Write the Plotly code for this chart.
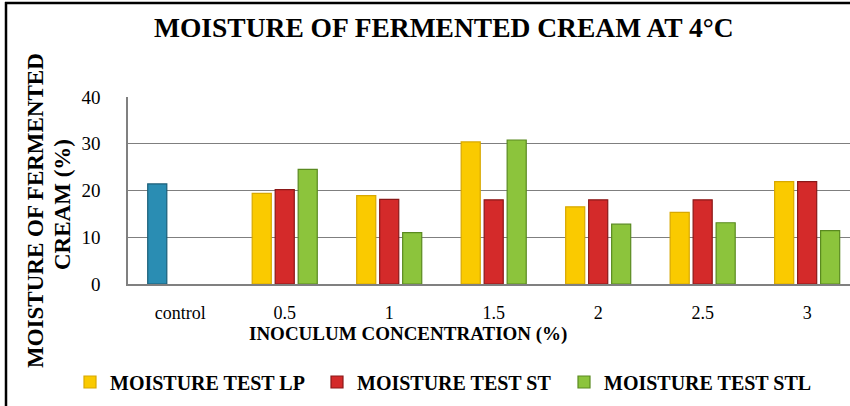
import plotly.graph_objects as go

categories = ["control", "0.5", "1", "1.5", "2", "2.5", "3"]
control_vals = [21.4]
lp_vals = [19.4, 18.9, 30.4, 16.5, 15.3, 21.9]
st_vals = [20.2, 18.1, 18.0, 18.0, 18.0, 21.9]
stl_vals = [24.5, 11.0, 30.8, 12.8, 13.1, 11.4]
y_ticks = [0, 10, 20, 30, 40]

FONT = "Liberation Serif"
W, H = 850, 406
L, R, T, B = 128, 0, 97, 122
PW, PH = W - L - R, H - T - B


def px(x):
    return (x - L) / PW


def py(y):
    return (H - B - y) / PH


fig = go.Figure()
fig.add_trace(go.Bar(x=categories[:1], y=control_vals, offsetgroup="lp", showlegend=False,
                     marker=dict(color="#2A8DB3", line=dict(color="#1A5E78", width=1.2)),
                     name="control"))
fig.add_trace(go.Bar(x=categories[1:], y=lp_vals, offsetgroup="lp", name="<b>MOISTURE TEST LP</b>",
                     marker=dict(color="#FACA00", line=dict(color="#D8A800", width=1.2))))
fig.add_trace(go.Bar(x=categories[1:], y=st_vals, offsetgroup="st", name="<b>MOISTURE TEST ST</b>",
                     marker=dict(color="#D42A2A", line=dict(color="#8A1818", width=1.2))))
fig.add_trace(go.Bar(x=categories[1:], y=stl_vals, offsetgroup="stl", name="<b>MOISTURE TEST STL</b>",
                     marker=dict(color="#8CC43C", line=dict(color="#5A8A20", width=1.2))))

fig.update_layout(
    width=W, height=H,
    margin=dict(l=L, r=R, t=T, b=B, pad=0),
    paper_bgcolor="white", plot_bgcolor="white",
    barmode="group", bargap=0.34, bargroupgap=0.17,
    font=dict(family=FONT, color="black"),
    xaxis=dict(type="category", categoryorder="array", categoryarray=categories,
               range=[-0.5, 6.41], showline=True, linecolor="#808080", linewidth=1.5,
               showgrid=False, tickfont=dict(family=FONT, size=18), ticklabelstandoff=12,
               fixedrange=True),
    yaxis=dict(range=[0, 40], tickvals=y_ticks, showgrid=True, gridcolor="#7F7F7F", gridwidth=1,
               showline=True, linecolor="#808080", linewidth=1.5, zeroline=False,
               tickfont=dict(family=FONT, size=19), ticklabelstandoff=22, fixedrange=True),
    legend=dict(orientation="h", x=px(70), xanchor="left", y=py(382), yanchor="middle",
                font=dict(family=FONT, size=20, color="black"), itemwidth=30,
                entrywidth=202, entrywidthmode="pixels", traceorder="normal"),
    showlegend=True,
)

fig.add_annotation(text="<b>MOISTURE OF FERMENTED CREAM AT 4°C</b>", xref="paper", yref="paper",
                   x=px(444), y=py(27), showarrow=False, font=dict(family=FONT, size=27.5),
                   xanchor="center", yanchor="middle")
fig.add_annotation(text="<b>INOCULUM CONCENTRATION (%)</b>", xref="paper", yref="paper",
                   x=px(408), y=py(334), showarrow=False, font=dict(family=FONT, size=19),
                   xanchor="center", yanchor="middle")
fig.add_annotation(text="<b>MOISTURE OF FERMENTED</b>", xref="paper", yref="paper",
                   x=px(35), y=py(211), showarrow=False, textangle=-90,
                   font=dict(family=FONT, size=23), xanchor="center", yanchor="middle")
fig.add_annotation(text="<b>CREAM (%)</b>", xref="paper", yref="paper",
                   x=px(62), y=py(205), showarrow=False, textangle=-90,
                   font=dict(family=FONT, size=23), xanchor="center", yanchor="middle")

fig.add_shape(type="line", xref="paper", yref="paper", x0=px(6), x1=px(6), y0=py(2), y1=py(410),
              line=dict(color="black", width=2.5))
fig.add_shape(type="line", xref="paper", yref="paper", x0=px(5), x1=px(852), y0=py(3), y1=py(3),
              line=dict(color="black", width=2.5))

fig.write_html("out.html", config={"displayModeBar": False},
               post_script="document.body.style.margin='0';document.body.style.overflow='hidden';")
